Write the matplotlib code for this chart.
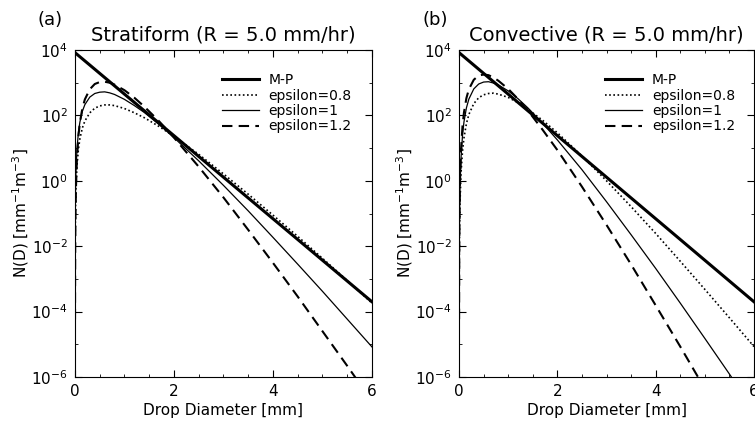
import numpy as np
import matplotlib
matplotlib.use("Agg")
import matplotlib.pyplot as plt
from matplotlib.ticker import MultipleLocator, FixedLocator, NullFormatter

# drop diameter samples [mm] for the gamma curves
diam = [0.001, 0.002, 0.005, 0.01, 0.02, 0.04, 0.07, 0.1, 0.15, 0.2, 0.3, 0.4, 0.5, 0.6,
        0.7, 0.8, 1.0, 1.2, 1.4, 1.7, 2.0, 2.5, 3.0, 3.5, 4.0, 4.5, 5.0, 5.5, 6.0]

# Marshall-Palmer line, log10 N(D)
mp_diam = [0, 1, 2, 3, 4, 5, 6]
mp_log = [3.92, 2.65, 1.38, 0.11, -1.16, -2.43, -3.70]

# (a) stratiform, log10 N(D)
strat_e08 = [-3.20, -2.51, -1.59, -0.90, -0.21, 0.45, 0.97, 1.29, 1.62, 1.83, 2.08, 2.22, 2.29,
             2.32, 2.32, 2.30, 2.21, 2.08, 1.93, 1.66, 1.36, 0.81, 0.21, -0.41, -1.05, -1.70,
             -2.37, -3.05, -3.74]
strat_e10 = [-2.79, -2.07, -1.13, -0.42, 0.28, 0.96, 1.49, 1.80, 2.13, 2.33, 2.56, 2.67, 2.71,
             2.72, 2.69, 2.64, 2.49, 2.30, 2.09, 1.72, 1.32, 0.61, -0.14, -0.92, -1.73, -2.55,
             -3.38, -4.23, -5.08]
strat_e12 = [-4.24, -3.30, -2.06, -1.13, -0.21, 0.69, 1.37, 1.79, 2.22, 2.49, 2.80, 2.96, 3.02,
             3.03, 3.00, 2.94, 2.77, 2.54, 2.27, 1.82, 1.32, 0.43, -0.51, -1.50, -2.51, -3.54,
             -4.60, -5.66, -6.74]

# (b) convective, log10 N(D)
conv_e08 = [-4.56, -3.64, -2.44, -1.54, -0.65, 0.23, 0.90, 1.31, 1.75, 2.03, 2.36, 2.54, 2.63,
            2.67, 2.68, 2.65, 2.55, 2.39, 2.19, 1.85, 1.47, 0.76, 0.00, -0.79, -1.61, -2.46,
            -3.32, -4.19, -5.07]
conv_e10 = [-4.26, -3.32, -2.07, -1.13, -0.21, 0.69, 1.38, 1.80, 2.23, 2.50, 2.81, 2.96, 3.02,
            3.03, 2.99, 2.93, 2.75, 2.51, 2.23, 1.76, 1.25, 0.34, -0.64, -1.65, -2.68, -3.74,
            -4.82, -5.91, -7.02]
conv_e12 = [-4.23, -3.24, -1.93, -0.95, 0.01, 0.95, 1.66, 2.09, 2.53, 2.80, 3.09, 3.22, 3.25,
            3.23, 3.16, 3.06, 2.81, 2.50, 2.15, 1.56, 0.94, -0.18, -1.35, -2.56, -3.81, -5.07,
            -6.36, -7.65, -8.96]

labels = ["M-P", "epsilon=0.8", "epsilon=1", "epsilon=1.2"]


def draw_panel(ax, e08, e10, e12, title, tag):
    ax.plot(mp_diam, 10 ** np.array(mp_log), color="k", lw=2.2, label=labels[0])
    ax.plot(diam, 10 ** np.array(e08), color="k", lw=1.2, ls=(0, (1, 1.5)), label=labels[1])
    ax.plot(diam, 10 ** np.array(e10), color="k", lw=0.9, label=labels[2])
    ax.plot(diam, 10 ** np.array(e12), color="k", lw=1.5, ls=(0, (5, 3)), label=labels[3])

    ax.set_yscale("log")
    ax.set_xlim(0, 6)
    ax.set_ylim(1e-6, 1e4)
    ax.xaxis.set_major_locator(FixedLocator([0, 2, 4, 6]))
    ax.xaxis.set_minor_locator(MultipleLocator(0.5))
    ax.yaxis.set_major_locator(FixedLocator([1e-6, 1e-4, 1e-2, 1e0, 1e2, 1e4]))
    ax.yaxis.set_minor_locator(FixedLocator([1e-5, 1e-3, 1e-1, 1e1, 1e3]))
    ax.yaxis.set_minor_formatter(NullFormatter())
    ax.tick_params(which="both", direction="in", top=True, right=True, labelsize=11)
    ax.tick_params(which="major", length=5, pad=5)
    ax.tick_params(which="minor", length=2.5)

    ax.set_title(title, fontsize=14, pad=7)
    ax.set_xlabel("Drop Diameter [mm]", fontsize=11, labelpad=3)
    ax.set_ylabel("N(D) [mm$^{-1}$m$^{-3}$]", fontsize=11, labelpad=0)
    ax.text(-0.125, 1.075, tag, transform=ax.transAxes, fontsize=13)
    ax.legend(loc="upper left", bbox_to_anchor=(0.47, 0.95), frameon=False, fontsize=10,
              handlelength=2.7, handletextpad=0.7, labelspacing=0.1, borderpad=0)


fig = plt.figure(figsize=(7.55, 4.23), dpi=100)
ax_a = fig.add_axes([0.0993, 0.1087, 0.3934, 0.7731])
ax_b = fig.add_axes([0.608, 0.1087, 0.3907, 0.7731])

draw_panel(ax_a, strat_e08, strat_e10, strat_e12, "Stratiform (R = 5.0 mm/hr)", "(a)")
draw_panel(ax_b, conv_e08, conv_e10, conv_e12, "Convective (R = 5.0 mm/hr)", "(b)")

fig.savefig("out.png", dpi=100)
